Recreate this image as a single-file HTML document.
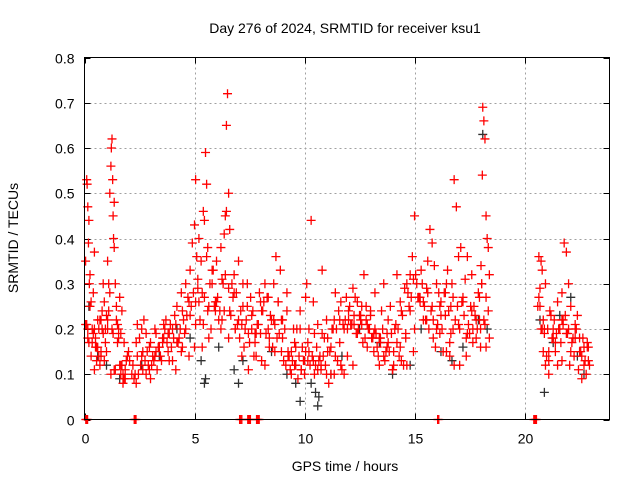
<!DOCTYPE html>
<html><head><meta charset="utf-8"><style>
body{margin:0;background:#fff}
svg{display:block;font-family:"Liberation Sans",sans-serif}
</style></head><body>
<svg id="chart" width="640" height="480">
<rect width="640" height="480" fill="#fff"/>
<text x="345" y="33" font-size="14" text-anchor="middle">Day 276 of 2024, SRMTID for receiver ksu1</text>
<text x="345" y="471" font-size="14" text-anchor="middle">GPS time / hours</text>
<text transform="translate(18,238) rotate(-90)" font-size="14" text-anchor="middle">SRMTID / TECUs</text>
<g id="grid"></g>
<g id="ticks"></g>
<g id="black"></g>
<g id="red"></g>
<rect x="84.5" y="57.5" width="525" height="362" fill="none" stroke="#000" stroke-width="1"/>
</svg>
<script>
const xTicks=[0,5,10,15,20];
const yTicks=[0,0.1,0.2,0.3,0.4,0.5,0.6,0.7,0.8];
const yTickLabels=["0","0.1","0.2","0.3","0.4","0.5","0.6","0.7","0.8"];
const zeroTimes=[0.06,0.1,0.14,2.26,2.3,2.34,7.05,7.1,7.15,7.42,7.46,7.5,7.54,7.82,7.86,7.9,7.94,16.05,16.1,20.42,20.46,20.5,20.54];
const redT=[0.05,0.1,0.12,0.15,0.18,0.2,0.22,0.25,0.3,0.35,0.4,0.45,0.5,0.55,0.6,0.65,0.7,0.75,0.8,0.85,0.9,0.95,1.0,1.05,1.1,1.15,1.2,1.22,1.25,1.28,1.3,1.32,1.35,1.4,1.45,1.5,1.55,1.6,1.65,1.7,1.75,1.8,1.85,1.9,2.0,2.2,2.3,2.4,2.5,2.6,2.7,2.8,2.9,3.0,3.1,3.2,3.3,3.4,3.5,3.6,3.7,3.8,3.9,4.0,4.1,4.2,4.3,4.4,4.5,4.6,4.7,4.8,4.9,5.0,5.05,5.1,5.15,5.2,5.3,5.4,5.45,5.5,5.55,5.6,5.7,5.8,5.9,6.0,6.1,6.2,6.3,6.35,6.4,6.45,6.5,6.55,6.6,6.7,6.8,6.9,7.0,7.1,7.2,7.3,7.4,7.5,7.6,7.7,7.8,7.9,8.0,8.1,8.2,8.3,8.4,8.5,8.6,8.7,8.8,8.9,9.0,9.1,9.2,9.3,9.4,9.5,9.6,9.7,9.8,9.9,10.0,10.05,10.1,10.2,10.3,10.4,10.5,10.6,10.7,10.8,10.9,11.0,11.1,11.2,11.3,11.4,11.5,11.6,11.7,11.8,11.9,12.0,12.1,12.2,12.3,12.4,12.5,12.6,12.7,12.8,12.9,13.0,13.1,13.2,13.3,13.4,13.5,13.6,13.7,13.8,13.9,14.0,14.1,14.2,14.3,14.4,14.5,14.6,14.7,14.8,14.9,15.0,15.1,15.2,15.3,15.4,15.5,15.6,15.7,15.8,15.9,16.0,16.1,16.2,16.3,16.4,16.5,16.6,16.65,16.7,16.8,16.9,17.0,17.1,17.2,17.3,17.4,17.5,17.6,17.7,17.8,17.9,18.0,18.02,18.05,18.08,18.1,18.15,18.2,18.25,18.3,18.35,18.4,20.6,20.65,20.7,20.75,20.8,20.85,20.9,20.95,21.0,21.1,21.2,21.3,21.4,21.5,21.6,21.7,21.75,21.8,21.9,22.0,22.1,22.2,22.3,22.4,22.5,22.6,22.7,22.8,22.9,
0.1,0.2,0.3,0.4,0.5,0.6,0.7,0.8,0.9,1.0,1.1,1.2,1.3,1.4,1.5,1.6,1.7,1.8,2.4,2.6,2.8,3.0,3.2,3.4,3.6,3.8,4.0,4.2,4.4,4.6,4.8,5.0,5.2,5.4,5.6,5.8,6.0,6.2,6.4,6.6,6.8,7.0,7.2,7.4,7.6,7.8,8.0,8.2,8.4,8.6,8.8,9.0,9.2,9.4,9.6,9.8,10.0,10.2,10.4,10.6,10.8,11.0,11.2,11.4,11.6,11.8,12.0,12.2,12.4,12.6,12.8,13.0,13.2,13.4,13.6,13.8,14.0,14.2,14.4,14.6,14.8,15.0,15.2,15.4,15.6,15.8,16.0,16.2,16.4,16.6,16.8,17.0,17.2,17.4,17.6,17.8,18.0,18.2,18.4,20.7,20.9,21.1,21.3,21.5,21.7,21.9,22.1,22.3,22.5,22.7,22.9,
0.15,0.45,0.75,1.05,1.35,1.65,2.35,2.65,2.95,3.25,3.55,3.85,4.15,4.45,4.75,5.05,5.35,5.65,5.95,6.25,6.55,6.85,7.15,7.45,7.75,8.05,8.35,8.65,8.95,9.25,9.55,9.85,10.15,10.45,10.75,11.05,11.35,11.65,11.95,12.25,12.55,12.85,13.15,13.45,13.75,14.05,14.35,14.65,14.95,15.25,15.55,15.85,16.15,16.45,16.75,17.05,17.35,17.65,17.95,18.25,20.8,21.1,21.4,21.7,22.0,22.3,22.6,22.85];
const redV=[0.35,0.53,0.52,0.47,0.39,0.44,0.3,0.32,0.26,0.2,0.28,0.37,0.18,0.13,0.16,0.2,0.22,0.15,0.24,0.3,0.13,0.2,0.23,0.35,0.3,0.5,0.56,0.6,0.62,0.53,0.45,0.4,0.38,0.3,0.25,0.17,0.2,0.27,0.1,0.12,0.08,0.09,0.11,0.13,0.15,0.12,0.1,0.14,0.18,0.2,0.22,0.1,0.12,0.17,0.14,0.2,0.11,0.16,0.13,0.18,0.22,0.15,0.21,0.2,0.23,0.25,0.18,0.28,0.22,0.3,0.27,0.33,0.39,0.43,0.53,0.36,0.29,0.4,0.35,0.46,0.44,0.59,0.52,0.38,0.3,0.33,0.25,0.35,0.22,0.38,0.3,0.41,0.45,0.65,0.72,0.5,0.42,0.3,0.32,0.28,0.22,0.24,0.3,0.2,0.25,0.17,0.23,0.14,0.19,0.21,0.26,0.24,0.3,0.27,0.18,0.22,0.3,0.36,0.26,0.33,0.22,0.2,0.28,0.14,0.1,0.2,0.16,0.09,0.24,0.16,0.13,0.27,0.3,0.2,0.44,0.26,0.12,0.21,0.14,0.33,0.18,0.1,0.08,0.16,0.2,0.28,0.13,0.22,0.11,0.2,0.27,0.24,0.21,0.29,0.27,0.19,0.23,0.25,0.32,0.22,0.2,0.24,0.18,0.28,0.16,0.12,0.24,0.3,0.15,0.17,0.25,0.11,0.2,0.32,0.14,0.24,0.12,0.19,0.28,0.32,0.36,0.45,0.3,0.27,0.33,0.26,0.22,0.35,0.42,0.39,0.34,0.3,0.28,0.26,0.15,0.23,0.33,0.14,0.25,0.3,0.53,0.47,0.36,0.38,0.27,0.31,0.36,0.19,0.32,0.25,0.22,0.28,0.2,0.34,0.3,0.54,0.69,0.66,0.62,0.45,0.4,0.38,0.32,0.25,0.36,0.29,0.35,0.33,0.22,0.19,0.3,0.14,0.1,0.23,0.2,0.17,0.26,0.2,0.28,0.22,0.39,0.37,0.3,0.25,0.18,0.2,0.23,0.15,0.09,0.16,0.1,0.13,0.21,0.17,0.14,
0.19,0.16,0.22,0.12,0.2,0.26,0.15,0.24,0.1,0.19,0.11,0.21,0.12,0.24,0.17,0.21,0.14,0.19,0.09,0.14,0.16,0.21,0.19,0.13,0.17,0.15,0.2,0.23,0.16,0.26,0.21,0.24,0.3,0.26,0.2,0.32,0.24,0.28,0.35,0.25,0.3,0.2,0.14,0.19,0.12,0.16,0.22,0.26,0.18,0.24,0.15,0.12,0.2,0.1,0.15,0.13,0.11,0.19,0.22,0.1,0.14,0.17,0.1,0.22,0.12,0.26,0.21,0.25,0.23,0.2,0.18,0.14,0.22,0.11,0.17,0.13,0.18,0.24,0.2,0.27,0.22,0.28,0.25,0.2,0.23,0.28,0.17,0.12,0.21,0.26,0.19,0.24,0.18,0.16,0.21,0.18,0.25,0.2,0.15,0.18,0.12,0.22,0.19,0.15,0.21,0.18,0.12,0.16,0.2,0.11,0.14,
0.2,0.11,0.19,0.17,0.15,0.11,0.15,0.17,0.13,0.11,0.16,0.14,0.21,0.16,0.18,0.24,0.22,0.18,0.2,0.14,0.11,0.17,0.13,0.2,0.15,0.22,0.14,0.12,0.11,0.13,0.1,0.12,0.15,0.1,0.12,0.14,0.21,0.23,0.21,0.19,0.17,0.19,0.12,0.16,0.12,0.15,0.27,0.29,0.22,0.19,0.15,0.2,0.12,0.14,0.2,0.22,0.16,0.2,0.13,0.15,0.13,0.2,0.18,0.14,0.17,0.11,0.09,0.12];
const redT2=[0.05,0.15,0.25,0.35,0.45,0.55,0.65,0.75,0.85,0.95,1.05,1.15,1.25,1.35,1.45,1.55,1.65,1.75,1.85,1.95,2.05,2.15,2.25,2.35,2.45,2.55,2.65,2.75,2.85,2.95,3.05,3.15,3.25,3.35,3.45,3.55,3.65,3.75,3.85,3.95,4.05,4.15,4.25,4.35,4.45,4.55,4.65,4.75,4.85,4.95,5.05,5.15,5.25,5.35,5.45,5.55,5.65,5.75,5.85,5.95,6.05,6.15,6.25,6.35,6.45,6.55,6.65,6.75,6.85,6.95,7.05,7.15,7.25,7.35,7.45,7.55,7.65,7.75,7.85,7.95,8.05,8.15,8.25,8.35,8.45,8.55,8.65,8.75,8.85,8.95,9.05,9.15,9.25,9.35,9.45,9.55,9.65,9.75,9.85,9.95,10.05,10.15,10.25,10.35,10.45,10.55,10.65,10.75,10.85,10.95,11.05,11.15,11.25,11.35,11.45,11.55,11.65,11.75,11.85,11.95,12.05,12.15,12.25,12.35,12.45,12.55,12.65,12.75,12.85,12.95,13.05,13.15,13.25,13.35,13.45,13.55,13.65,13.75,13.85,13.95,14.05,14.15,14.25,14.35,14.45,14.55,14.65,14.75,14.85,14.95,15.05,15.15,15.25,15.35,15.45,15.55,15.65,15.75,15.85,15.95,16.05,16.15,16.25,16.35,16.45,16.55,16.65,16.75,16.85,16.95,17.05,17.15,17.25,17.35,17.45,17.55,17.65,17.75,17.85,17.95,18.05,18.15,18.25,18.35,20.65,20.75,20.85,20.95,21.05,21.15,21.25,21.35,21.45,21.55,21.65,21.75,21.85,21.95,22.05,22.15,22.25,22.35,22.45,22.55,22.65,22.75,22.85,22.95];
const redV2=[0.21,0.18,0.25,0.17,0.2,0.16,0.14,0.22,0.19,0.17,0.22,0.28,0.2,0.48,0.22,0.18,0.12,0.1,0.09,0.14,0.13,0.1,0.09,0.08,0.1,0.12,0.11,0.13,0.15,0.16,0.12,0.13,0.19,0.16,0.14,0.18,0.2,0.17,0.19,0.16,0.18,0.21,0.17,0.2,0.24,0.19,0.23,0.26,0.25,0.28,0.26,0.31,0.22,0.28,0.27,0.36,0.25,0.2,0.33,0.26,0.27,0.24,0.31,0.24,0.46,0.29,0.23,0.27,0.2,0.21,0.18,0.21,0.16,0.22,0.19,0.27,0.24,0.19,0.21,0.28,0.24,0.26,0.19,0.27,0.23,0.16,0.21,0.18,0.19,0.15,0.13,0.12,0.15,0.11,0.13,0.17,0.2,0.14,0.11,0.13,0.15,0.17,0.12,0.14,0.19,0.16,0.13,0.11,0.14,0.12,0.18,0.15,0.2,0.22,0.2,0.24,0.26,0.21,0.22,0.2,0.25,0.21,0.23,0.19,0.2,0.22,0.17,0.18,0.16,0.2,0.18,0.15,0.19,0.14,0.18,0.2,0.13,0.16,0.15,0.19,0.15,0.21,0.2,0.26,0.23,0.29,0.3,0.25,0.27,0.31,0.32,0.27,0.26,0.3,0.25,0.22,0.2,0.24,0.18,0.16,0.21,0.25,0.2,0.28,0.3,0.24,0.19,0.27,0.22,0.25,0.2,0.26,0.23,0.18,0.21,0.25,0.17,0.23,0.2,0.27,0.3,0.22,0.27,0.24,0.27,0.2,0.15,0.12,0.2,0.24,0.18,0.22,0.19,0.2,0.17,0.21,0.23,0.19,0.12,0.17,0.14,0.2,0.11,0.15,0.18,0.13,0.16,0.12];
const blackT=[0.2,0.6,1.0,1.6,2.6,3.4,4.2,4.8,5.3,5.45,5.5,6.1,6.8,7.0,7.2,8.5,9.2,9.6,9.8,10.3,10.5,10.6,10.65,11.2,11.7,12.5,13.4,14.0,14.8,15.3,16.2,16.7,17.2,17.9,18.1,18.3,20.7,20.9,21.3,21.6,22.1,22.4,22.7];
const blackV=[0.25,0.14,0.12,0.09,0.12,0.14,0.2,0.18,0.13,0.08,0.09,0.16,0.11,0.08,0.13,0.15,0.1,0.08,0.04,0.08,0.06,0.03,0.05,0.1,0.14,0.2,0.17,0.1,0.12,0.2,0.15,0.13,0.16,0.22,0.63,0.2,0.22,0.06,0.17,0.23,0.27,0.14,0.1];
const X0=84.5,X1=609.5,Y0=419.5,Y1=57.5,XMAX=23.86,YMAX=0.8;
const xs=t=>X0+(t/XMAX)*(X1-X0);
const ys=v=>Y0-(v/YMAX)*(Y0-Y1);
const NS="http://www.w3.org/2000/svg";
function mk(tag,attrs,parent){const e=document.createElementNS(NS,tag);for(const k in attrs)e.setAttribute(k,attrs[k]);parent.appendChild(e);return e;}
const grid=document.getElementById('grid'),ticks=document.getElementById('ticks');
yTicks.forEach((v,i)=>{const y=Math.round(ys(v))+0.5;
 if(v>0&&v<YMAX){const g=mk('line',{x1:X0,x2:X1,y1:y,y2:y,stroke:'#a0a0a0','stroke-dasharray':'2,3'},grid);
 
 }
 const t=mk('path',{d:`M${X0} ${y}h6M${X1} ${y}h-6`,stroke:'#000'},ticks);
 
 
 const l=mk('text',{x:X0-10,y:y+5,'font-size':14,'text-anchor':'end'},ticks);l.textContent=yTickLabels[i];
 
 
});
xTicks.forEach(v=>{const x=Math.round(xs(v))+0.5;
 if(v>0){const g=mk('line',{x1:x,x2:x,y1:Y0,y2:Y1,stroke:'#a0a0a0','stroke-dasharray':'2,3'},grid);
 
 }
 const t=mk('path',{d:`M${x} ${Y0}v-6M${x} ${Y1}v6`,stroke:'#000'},ticks);
 
 
 const l=mk('text',{x:x,y:Y0+24,'font-size':14,'text-anchor':'middle'},ticks);l.textContent=String(v);
 
 
});
function plus(t,v,col,g,name){const x=xs(t),y=ys(v);
 const p=mk('path',{d:`M${x-4.5} ${y}h9M${x} ${y-4.5}v9`,stroke:col,'stroke-width':1.3},g);
 
 }
const bg=document.getElementById('black'),rg=document.getElementById('red');
blackT.forEach((t,i)=>plus(t,blackV[i],'#303030',bg,'black-point'));
redT.forEach((t,i)=>plus(t,redV[i],'#ff0000',rg,'red-point'));
redT2.forEach((t,i)=>plus(t,redV2[i],'#ff0000',rg,'red-point'));
zeroTimes.forEach(t=>plus(t,0,'#ff0000',rg,'zero-point'));
</script>
</body></html>
